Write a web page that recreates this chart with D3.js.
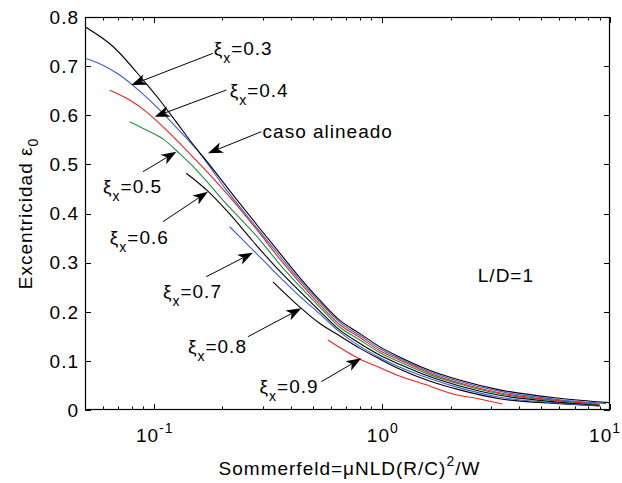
<!DOCTYPE html>
<html><head><meta charset="utf-8">
<script src="https://cdn.jsdelivr.net/npm/d3@7"></script>
<style>
body{margin:0;background:#fff}
svg{font-family:"Liberation Sans",Arial,Helvetica,sans-serif;}
</style>
</head><body>
<svg id="chart" width="622" height="483"></svg>
<script>
// ---------------- data ----------------
const alineadoX = [0.05, 0.0663, 0.0898, 0.1062, 0.1257, 0.1486, 0.1759, 0.2225, 0.2912, 0.3562, 0.4359, 0.5334, 0.6528, 0.7986, 0.977, 1.195, 1.618, 2.19, 3.28, 6.0, 9.9];
const alineadoY = [0.780, 0.740, 0.672, 0.631, 0.586, 0.541, 0.499, 0.438, 0.370, 0.320, 0.270, 0.224, 0.183, 0.156, 0.129, 0.108, 0.081, 0.061, 0.041, 0.024, 0.015];

const xi03X = [0.05, 0.058, 0.071, 0.0868, 0.1062, 0.130, 0.159, 0.2082, 0.2912, 0.3562, 0.4359, 0.5334, 0.6528, 0.7986, 0.977, 1.195, 1.618, 2.19, 3.28, 6.0, 9.6];
const xi03Y = [0.716, 0.705, 0.682, 0.649, 0.611, 0.568, 0.523, 0.448, 0.364, 0.314, 0.265, 0.220, 0.179, 0.152, 0.125, 0.105, 0.078, 0.058, 0.038, 0.021, 0.013];

const xi04X = [0.0642, 0.0785, 0.0929, 0.1062, 0.1257, 0.1486, 0.1818, 0.2153, 0.2912, 0.3562, 0.4359, 0.5334, 0.6528, 0.7986, 0.977, 1.195, 1.618, 2.19, 3.28, 6.0, 9.0];
const xi04Y = [0.651, 0.631, 0.607, 0.583, 0.550, 0.515, 0.472, 0.434, 0.360, 0.308, 0.260, 0.215, 0.174, 0.148, 0.121, 0.102, 0.075, 0.055, 0.035, 0.019, 0.012];

const xi05X = [0.0785, 0.0929, 0.1098, 0.130, 0.1538, 0.1818, 0.2011, 0.238, 0.2912, 0.3562, 0.4359, 0.5334, 0.6528, 0.7986, 0.977, 1.195, 1.618, 2.19, 3.28, 6.0, 8.5];
const xi05Y = [0.587, 0.570, 0.552, 0.522, 0.489, 0.451, 0.427, 0.391, 0.347, 0.297, 0.252, 0.210, 0.169, 0.143, 0.117, 0.098, 0.072, 0.053, 0.033, 0.018, 0.012];

const xi06X = [0.139, 0.1723, 0.2153, 0.2715, 0.3562, 0.4359, 0.5334, 0.6528, 0.7986, 0.977, 1.195, 1.618, 2.19, 3.28, 6.0, 9.0];
const xi06Y = [0.482, 0.446, 0.399, 0.344, 0.283, 0.242, 0.202, 0.163, 0.136, 0.112, 0.093, 0.068, 0.049, 0.030, 0.016, 0.010];

const xi07X = [0.2153, 0.238, 0.2912, 0.3562, 0.4359, 0.5334, 0.6528, 0.7986, 0.977, 1.195, 1.618, 2.19, 3.28, 6.0, 9.0];
const xi07Y = [0.373, 0.353, 0.312, 0.271, 0.232, 0.196, 0.159, 0.130, 0.107, 0.0875, 0.064, 0.045, 0.026, 0.014, 0.009];

const xi08X = [0.333, 0.4359, 0.5334, 0.6528, 0.7986, 0.977, 1.195, 1.618, 2.19, 3.28, 6.0, 9.0];
const xi08Y = [0.261, 0.210, 0.1765, 0.151, 0.126, 0.104, 0.0835, 0.059, 0.041, 0.023, 0.013, 0.008];

const xi09X = [0.580, 0.7986, 0.977, 1.195, 1.618, 1.98, 2.68, 3.38];
const xi09Y = [0.1425, 0.104, 0.0865, 0.069, 0.049, 0.0346, 0.0224, 0.0122];

const xMajorTicks = [0.1, 1, 10];
const xMajorLabels = ["-1", "0", "1"];
const xMinorTicks = [0.06,0.07,0.08,0.09,0.2,0.3,0.4,0.5,0.6,0.7,0.8,0.9,2,3,4,5,6,7,8,9];
const yTicks = [0, 0.1, 0.2, 0.3, 0.4, 0.5, 0.6, 0.7, 0.8];
const yTickLabels = ["0","0.1","0.2","0.3","0.4","0.5","0.6","0.7","0.8"];

// annotations (label value, text anchor in data units, arrow tail -> tip in data units)
const annotLabels = ["0.3", "0.4", null, "0.5", "0.6", "0.7", "0.8", "0.9"];
const annotTextX  = [0.1832, 0.2153, 0.3002, 0.0600, 0.0642, 0.1098, 0.1413, 0.2912];
const annotTextY  = [0.7226, 0.6378, 0.5531, 0.4411, 0.3369, 0.2274, 0.1154, 0.0346];
const arrowFromX  = [0.1818, 0.2082, 0.2963, 0.0898, 0.1098, 0.170, 0.2588, 0.5428];
const arrowFromY  = [0.726, 0.6514, 0.5665, 0.4851, 0.3833, 0.2713, 0.1492, 0.0576];
const arrowToX    = [0.0798, 0.1010, 0.1729, 0.1257, 0.1729, 0.2723, 0.4438, 0.8125];
const arrowToY    = [0.6616, 0.597, 0.5225, 0.5258, 0.4444, 0.3202, 0.207, 0.1052];

// ---------------- layout ----------------
const svg = d3.select("#chart");
const L = 85, R = 610, T = 17, B = 410;
const x = d3.scaleLog().domain([0.05, 10]).range([L, R]);
const y = d3.scaleLinear().domain([0, 0.8]).range([B, T]);
const FS = 19, LS = 1, SUB = 14;

const blue = "#3a5bd0", red = "#f02020", green = "#1f8f3a";
const series = [
  {xs: xi09X, ys: xi09Y, c: red},
  {xs: xi08X, ys: xi08Y, c: "#000"},
  {xs: xi07X, ys: xi07Y, c: blue},
  {xs: xi06X, ys: xi06Y, c: "#000"},
  {xs: xi05X, ys: xi05Y, c: green},
  {xs: xi04X, ys: xi04Y, c: red},
  {xs: xi03X, ys: xi03Y, c: blue},
  {xs: alineadoX, ys: alineadoY, c: "#000"}
];

const defs = svg.append("defs");
defs.append("clipPath").attr("id","plotclip")
  .append("rect").attr("x", L).attr("y", T).attr("width", R-L).attr("height", B-T);

const line = d3.line().x(d => x(d[0])).y(d => y(d[1])).curve(d3.curveMonotoneX);
const g = svg.append("g").attr("clip-path","url(#plotclip)");
series.forEach(s => {
  g.append("path")
    .datum(s.xs.map((v,i) => [v, s.ys[i]]))
    .attr("d", line).attr("fill","none").attr("stroke", s.c).attr("stroke-width", 1.1);
});

// frame
svg.append("rect").attr("x", L+0.5).attr("y", T+0.5).attr("width", R-L-1).attr("height", B-T-1)
  .attr("fill","none").attr("stroke","#000").attr("stroke-width",1.2);

// ticks
const tk = svg.append("g").attr("stroke","#000").attr("stroke-width",1);
xMajorTicks.forEach(v => {
  const px = Math.round(x(v)) + 0.5;
  tk.append("line").attr("x1",px).attr("x2",px).attr("y1",B).attr("y2",B-6);
  tk.append("line").attr("x1",px).attr("x2",px).attr("y1",T).attr("y2",T+6);
});
xMinorTicks.forEach(v => {
  const px = Math.round(x(v)) + 0.5;
  tk.append("line").attr("x1",px).attr("x2",px).attr("y1",B).attr("y2",B-3.5);
  tk.append("line").attr("x1",px).attr("x2",px).attr("y1",T).attr("y2",T+3.5);
});
yTicks.forEach(v => {
  const py = Math.round(y(v)) + 0.5;
  tk.append("line").attr("x1",L).attr("x2",L+6).attr("y1",py).attr("y2",py);
  tk.append("line").attr("x1",R).attr("x2",R-6).attr("y1",py).attr("y2",py);
});

function txt(sel){ return sel.append("text").attr("font-size",FS).attr("fill","#000").attr("letter-spacing",LS); }

// y tick labels
yTicks.forEach((v,i) => {
  txt(svg).attr("x", 79).attr("y", y(v)).attr("dy","0.36em")
    .attr("text-anchor","end").text(yTickLabels[i]);
});
// x tick labels
xMajorTicks.forEach((v,i) => {
  const last = i === xMajorTicks.length - 1;
  const t = txt(svg).attr("x", last ? 621 : x(v) + 1).attr("y", 441.5)
    .attr("text-anchor", last ? "end" : "middle");
  t.append("tspan").text("10");
  t.append("tspan").attr("font-size",SUB).attr("dy",-9).text(xMajorLabels[i]);
});

// axis labels
const xl = txt(svg).attr("x", (L+R)/2 + 2).attr("y", 475).attr("text-anchor","middle");
xl.append("tspan").text("Sommerfeld=\u03BCNLD(R/C)");
xl.append("tspan").attr("font-size",SUB).attr("dy",-9).text("2");
xl.append("tspan").attr("dy",9).text("/W");

const yl = txt(svg).attr("transform",`translate(32,${(T+B)/2}) rotate(-90)`).attr("text-anchor","middle");
yl.append("tspan").text("Excentricidad \u03B5");
yl.append("tspan").attr("font-size",SUB).attr("dy",6).text("0");

// annotations
annotLabels.forEach((lab,i) => {
  const t = txt(svg).attr("x", x(annotTextX[i])).attr("y", y(annotTextY[i]));
  if (lab === null) {
    t.text("caso alineado");
  } else {
    t.append("tspan").text("\u03BE");
    t.append("tspan").attr("font-size",SUB).attr("dy",8).text("x");
    t.append("tspan").attr("dy",-8).text("=" + lab);
  }
  const x1 = x(arrowFromX[i]), y1 = y(arrowFromY[i]), x2 = x(arrowToX[i]), y2 = y(arrowToY[i]);
  const ang = Math.atan2(y2-y1, x2-x1);
  const hl = 15, hw = 5.5, notch = 11;
  const bx = x2 - hl*Math.cos(ang), by = y2 - hl*Math.sin(ang);
  const nx = x2 - notch*Math.cos(ang), ny = y2 - notch*Math.sin(ang);
  svg.append("line").attr("x1",x1).attr("y1",y1).attr("x2",nx).attr("y2",ny)
    .attr("stroke","#000").attr("stroke-width",1);
  const px = -Math.sin(ang), py = Math.cos(ang);
  svg.append("path").attr("d",
    `M${x2},${y2}L${bx+hw*px},${by+hw*py}L${nx},${ny}L${bx-hw*px},${by-hw*py}Z`)
    .attr("fill","#000");
});

// L/D label
txt(svg).attr("x", x(2.634)).attr("y", y(0.2612)).text("L/D=1");
</script>
</body></html>
